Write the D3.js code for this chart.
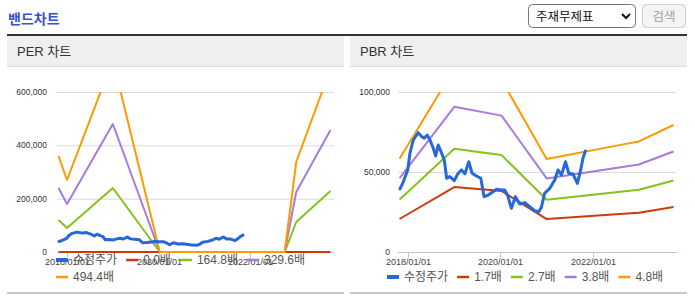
<!DOCTYPE html>
<html>
<head>
<meta charset="utf-8">
<script src="https://cdn.jsdelivr.net/npm/d3@7"></script>
<style>
  body { margin: 0; background: #fff; }
  svg { display: block; font-family: "Liberation Sans", Arial, "Noto Sans CJK KR", sans-serif; }
</style>
</head>
<body>
<script>
// 수정주가 (adjusted price), shared by both charts
var stockDates = ["2017-10-29","2017-11-24","2017-12-29","2018-01-16","2018-02-11","2018-03-22","2018-04-18","2018-05-08",
  "2018-06-01","2018-06-23","2018-07-19","2018-08-07","2018-08-27","2018-09-18","2018-10-14","2018-11-02","2018-11-27",
  "2019-01-01","2019-02-01","2019-02-28","2019-03-26","2019-04-26","2019-05-22","2019-06-26","2019-07-30","2019-08-25",
  "2019-09-26","2019-11-04","2019-12-01","2020-01-10","2020-02-04","2020-02-26","2020-03-28","2020-04-29","2020-06-02",
  "2020-07-12","2020-08-20","2020-09-28","2020-10-30","2020-11-20","2020-12-16","2021-01-26","2021-03-06","2021-04-01",
  "2021-04-28","2021-05-30","2021-06-25","2021-07-29","2021-09-01","2021-09-27","2021-10-15","2021-11-03"];
var stockPrice = [39400, 43900, 51300, 61900, 70000, 74600, 72100, 71100,
  73100, 70000, 64800, 60000, 66900, 62700, 57500, 46100, 47100,
  44600, 49200, 51300, 48800, 56400, 49200, 47500, 46100, 34600,
  35600, 37700, 39200, 38800, 38800, 35600, 27300, 34600, 30000,
  30800, 28300, 25800, 25200, 27900, 36700, 39800, 45000, 51300,
  48100, 56400, 49200, 48600, 42900, 51300, 58600, 63100];

// band vertices
var bandDates = ["2017-10-25","2018-01-01","2019-01-01","2020-01-10","2021-01-01","2022-10-01","2023-01-01","2023-10-01"];

var perNames = ["0.0배", "164.8배", "329.6배", "494.4배"];
var per00  = [0, 0, 0, 0, 0, 0, 0, 0];
var per165 = [120000, 90000, 240000, 0, 0, 0, 112500, 228750];
var per330 = [240000, 180000, 480000, 0, 0, 0, 225000, 457500];
var per494 = [360000, 270000, 720000, 0, 0, 0, 337500, 686250];
var perTicks = [0, 200000, 400000, 600000];

var pbrNames = ["1.7배", "2.7배", "3.8배", "4.8배"];
var pbr17 = [20620, 23750, 40600, 38130, 20570, 24000, 24480, 28120];
var pbr27 = [32750, 37720, 64480, 60560, 32670, 38100, 38880, 44660];
var pbr38 = [46090, 53090, 90740, 85230, 45980, 53630, 54720, 62850];
var pbr48 = [58220, 67060, 114620, 107660, 58080, 67740, 69120, 79390];
var pbrTicks = [0, 50000, 100000];

var xTickDates = ["2018-01-01", "2020-01-01", "2022-01-01"];
var xTickLabels = ["2018/01/01", "2020/01/01", "2022/01/01"];

var bandColors = ["#cc3a08", "#84c21e", "#a67bdc", "#ff9900"];
var priceColor = "#2468dc";

var parse = d3.timeParse("%Y-%m-%d");

var svg = d3.select("body").append("svg")
    .attr("width", 695)
    .attr("height", 302);

/* 윗부분 */
svg.append("text")
    .attr("x", 8).attr("y", 24)
    .attr("font-size", 14).attr("font-weight", "bold")
    .attr("font-family", "Noto Sans CJK KR")
    .attr("fill", "#3b4fd2")
    .text("밴드차트");

svg.append("rect")
    .attr("x", 528.5).attr("y", 4.5).attr("width", 107).attr("height", 23).attr("rx", 4)
    .attr("fill", "#fff").attr("stroke", "#767676");
svg.append("text")
    .attr("x", 536).attr("y", 20.5)
    .attr("font-size", 12.5).attr("font-family", "Noto Sans CJK KR")
    .attr("fill", "#111")
    .text("주재무제표");
svg.append("path")
    .attr("d", "M622,14 L626,18 L630,14")
    .attr("fill", "none").attr("stroke", "#111").attr("stroke-width", 2);

svg.append("rect")
    .attr("x", 642.5).attr("y", 4.5).attr("width", 43).attr("height", 23).attr("rx", 4)
    .attr("fill", "#f4f4f4").attr("stroke", "#cfcfcf");
svg.append("text")
    .attr("x", 664).attr("y", 20.5).attr("text-anchor", "middle")
    .attr("font-size", 12.5).attr("font-family", "Noto Sans CJK KR")
    .attr("fill", "#a0a0a0")
    .text("검색");

svg.append("rect").attr("x", 7).attr("y", 34).attr("width", 680).attr("height", 2).attr("fill", "#333");

function panel(x, title) {
    svg.append("rect").attr("x", x).attr("y", 36).attr("width", 337).attr("height", 30).attr("fill", "#efefef");
    svg.append("rect").attr("x", x).attr("y", 66).attr("width", 337).attr("height", 1).attr("fill", "#dcdcdc");
    svg.append("rect").attr("x", x).attr("y", 292).attr("width", 337).attr("height", 2).attr("fill", "#c8c8c8");
    svg.append("text")
        .attr("x", x + 10).attr("y", 56)
        .attr("font-size", 13).attr("fill", "#333")
        .text(title);
}
panel(7, "PER 차트");
panel(350, "PBR 차트");

/* 차트 */
function drawChart(o) {
    var g = svg.append("g");
    var x = d3.scaleTime()
        .domain([parse("2017-10-13"), parse("2023-10-29")])
        .range([o.left, o.right]);
    var y = d3.scaleLinear()
        .domain([0, o.yMax])
        .range([o.bottom, o.top]);

    // grid + y labels
    o.yTicks.forEach(function (t) {
        if (t > 0) {
            g.append("line")
                .attr("x1", o.left).attr("x2", o.right)
                .attr("y1", y(t) + 0.5).attr("y2", y(t) + 0.5)
                .attr("stroke", "#dadada");
        }
        g.append("text")
            .attr("x", o.labelRight).attr("y", y(t))
            .attr("dy", "0.35em").attr("text-anchor", "end")
            .attr("font-size", 8.5).attr("fill", "#333")
            .text(d3.format(",")(t));
    });

    // x axis
    g.append("line")
        .attr("x1", o.left).attr("x2", o.right)
        .attr("y1", o.bottom + 0.5).attr("y2", o.bottom + 0.5)
        .attr("stroke", "#b8c8da");
    xTickDates.forEach(function (d, i) {
        var tx = Math.round(x(parse(d))) + 0.5;
        g.append("line")
            .attr("x1", tx).attr("x2", tx)
            .attr("y1", o.bottom).attr("y2", o.bottom + 5)
            .attr("stroke", "#b8c8da");
        g.append("text")
            .attr("x", tx).attr("y", o.bottom + 13)
            .attr("text-anchor", "middle")
            .attr("font-size", 9).attr("fill", "#444")
            .text(xTickLabels[i]);
    });

    var clipId = "clip" + o.left;
    svg.append("clipPath").attr("id", clipId)
        .append("rect")
        .attr("x", o.left - 2).attr("y", o.top)
        .attr("width", o.right - o.left + 4).attr("height", o.bottom - o.top + 3);

    var plot = g.append("g").attr("clip-path", "url(#" + clipId + ")");
    var line = d3.line()
        .x(function (d) { return x(d[0]); })
        .y(function (d) { return y(d[1]); });

    o.bands.forEach(function (vals, i) {
        var pts = bandDates.map(function (d, j) { return [parse(d), vals[j]]; });
        plot.append("path")
            .attr("d", line(pts))
            .attr("fill", "none")
            .attr("stroke", bandColors[i])
            .attr("stroke-width", 2)
            .attr("stroke-linejoin", "round");
    });

    var pricePts = stockDates.map(function (d, j) { return [parse(d), stockPrice[j]]; });
    plot.append("path")
        .attr("d", line(pricePts))
        .attr("fill", "none")
        .attr("stroke", priceColor)
        .attr("stroke-width", 3)
        .attr("stroke-linejoin", "round")
        .attr("stroke-linecap", "round");

    // legend
    var items = [{ name: "수정주가", color: priceColor, w: 4 }];
    o.names.forEach(function (n, i) { items.push({ name: n, color: bandColors[i], w: 2.5 }); });
    var lx = o.legendX, ly = o.legendY;
    items.forEach(function (it) {
        var t = g.append("text")
            .attr("y", ly).attr("dy", "0.35em")
            .attr("font-size", 12).attr("fill", "#555")
            .text(it.name);
        var tw = t.node().getComputedTextLength();
        if (lx + 17 + tw > o.legendMax) {
            lx = o.legendX;
            ly += 17;
            t.attr("y", ly);
        }
        t.attr("x", lx + 17);
        g.append("line")
            .attr("x1", lx).attr("x2", lx + 12)
            .attr("y1", ly).attr("y2", ly)
            .attr("stroke", it.color).attr("stroke-width", it.w);
        lx += 17 + tw + 9;
    });
}

drawChart({
    left: 57, right: 334, top: 92, bottom: 252,
    yMax: 600000, yTicks: perTicks, labelRight: 47,
    bands: [per00, per165, per330, per494], names: perNames,
    legendX: 56, legendY: 260, legendMax: 340
});

drawChart({
    left: 398, right: 677, top: 92, bottom: 252,
    yMax: 100000, yTicks: pbrTicks, labelRight: 390,
    bands: [pbr17, pbr27, pbr38, pbr48], names: pbrNames,
    legendX: 387, legendY: 277, legendMax: 684
});
</script>
</body>
</html>
